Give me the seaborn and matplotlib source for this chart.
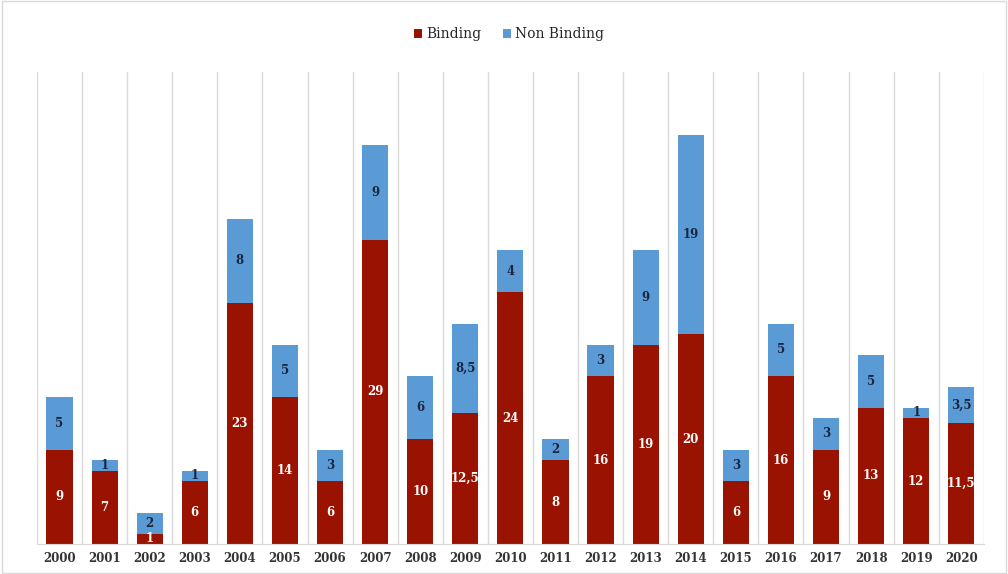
import pandas as pd
import matplotlib.pyplot as plt
import seaborn as sns
from matplotlib.patches import Rectangle

# --- Data ---
years = [str(y) for y in range(2000, 2021)]
binding = [9, 7, 1, 6, 23, 14, 6, 29, 10, 12.5, 24, 8, 16, 19, 20, 6, 16, 9, 13, 12, 11.5]
non_binding = [5, 1, 2, 1, 8, 5, 3, 9, 6, 8.5, 4, 2, 3, 9, 19, 3, 5, 3, 5, 1, 3.5]

df = pd.DataFrame({"Year": years, "Binding": binding, "Non Binding": non_binding})
df["Total"] = df["Binding"] + df["Non Binding"]

red = "#9A1300"
blue = "#5B9BD5"

sns.set_style("white")
plt.rcParams['font.family'] = ['DejaVu Serif']

fig = plt.figure(figsize=(10.08, 5.74), dpi=100)
ax = fig.add_axes([0.0367, 0.052, 0.9393, 0.823])

# stacked bars: total in blue, binding drawn over it in red
sns.barplot(data=df, x="Year", y="Total", color=blue, width=0.58,
            saturation=1, linewidth=0, ax=ax, label="Non Binding")
sns.barplot(data=df, x="Year", y="Binding", color=red, width=0.58,
            saturation=1, linewidth=0, ax=ax, label="Binding")
handles, labels = ax.get_legend_handles_labels()
if ax.get_legend() is not None:
    ax.get_legend().remove()

ax.set_ylim(0, 45)
ax.set_xlim(-0.5, len(years) - 0.5)

# vertical separators between categories
for i in range(len(years) + 1):
    ax.axvline(i - 0.5, color="#d9d9d9", lw=1, zorder=0)

def fmt(v):
    return f"{v:g}".replace(".", ",")

for i, (b, nb) in enumerate(zip(binding, non_binding)):
    ax.text(i, b / 2, fmt(b), ha="center", va="center", color="white",
            fontsize=8.5, fontweight="bold")
    ax.text(i, b + nb / 2, fmt(nb), ha="center", va="center", color="#1a2540",
            fontsize=8.5, fontweight="bold")

for s in ["top", "left", "right"]:
    ax.spines[s].set_visible(False)
ax.spines["bottom"].set_color("#d9d9d9")
ax.set_yticks([])
ax.set_xlabel("")
ax.set_ylabel("")
ax.tick_params(axis="x", length=0, pad=6)
for lbl in ax.get_xticklabels():
    lbl.set_fontsize(8.5)
    lbl.set_fontweight("bold")
    lbl.set_color("#333333")

order = [labels.index("Binding"), labels.index("Non Binding")]
fig.legend([handles[k] for k in order], [labels[k] for k in order],
           loc="center", bbox_to_anchor=(0.505, 0.94), ncol=2, frameon=False,
           fontsize=10, handlelength=0.6, handleheight=0.6, handletextpad=0.3,
           columnspacing=1.5)

fig.patches.append(Rectangle((0.002, 0.002), 0.996, 0.996, transform=fig.transFigure,
                             fill=False, edgecolor="#d9d9d9", lw=1))

plt.savefig("out.png", dpi=100)
